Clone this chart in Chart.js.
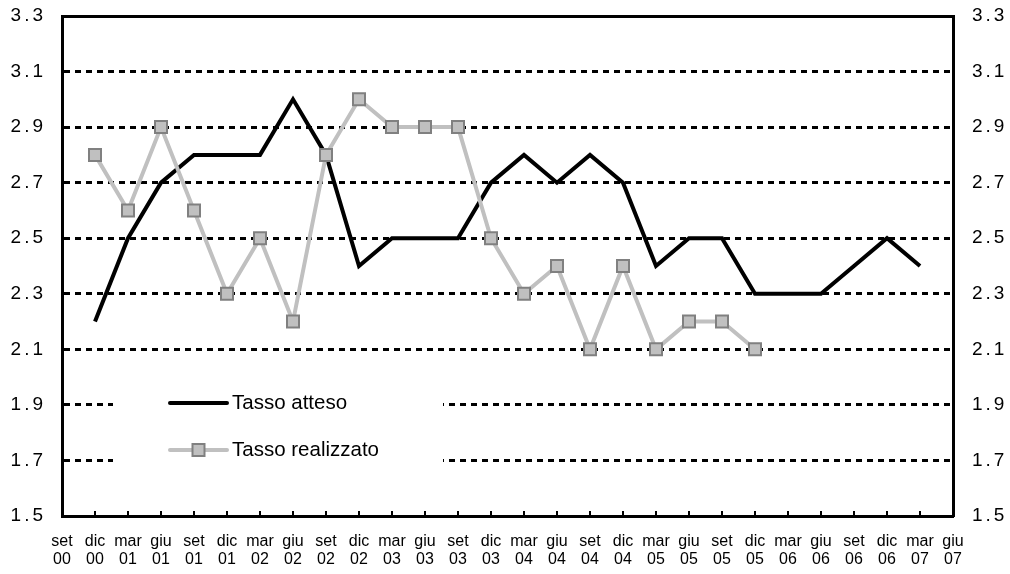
<!DOCTYPE html>
<html>
<head>
<meta charset="utf-8">
<script src="https://cdn.jsdelivr.net/npm/chart.js@4/dist/chart.umd.min.js"></script>
<style>
  html, body { margin: 0; padding: 0; background: #fff; }
  #wrap { width: 1010px; height: 574px; }
</style>
</head>
<body>
<div id="wrap"><canvas id="chart" width="1010" height="574"></canvas></div>
<script>
const quarters = [
  ["set", "00"], ["dic", "00"], ["mar", "01"], ["giu", "01"], ["set", "01"], ["dic", "01"],
  ["mar", "02"], ["giu", "02"], ["set", "02"], ["dic", "02"], ["mar", "03"], ["giu", "03"],
  ["set", "03"], ["dic", "03"], ["mar", "04"], ["giu", "04"], ["set", "04"], ["dic", "04"],
  ["mar", "05"], ["giu", "05"], ["set", "05"], ["dic", "05"], ["mar", "06"], ["giu", "06"],
  ["set", "06"], ["dic", "06"], ["mar", "07"], ["giu", "07"]
];

const tassoAtteso = [
  null, 2.2, 2.5, 2.7, 2.8, 2.8, 2.8, 3.0, 2.8, 2.4, 2.5, 2.5, 2.5, 2.7,
  2.8, 2.7, 2.8, 2.7, 2.4, 2.5, 2.5, 2.3, 2.3, 2.3, 2.4, 2.5, 2.4, null
];

const tassoRealizzato = [
  null, 2.8, 2.6, 2.9, 2.6, 2.3, 2.5, 2.2, 2.8, 3.0, 2.9, 2.9, 2.9, 2.5,
  2.3, 2.4, 2.1, 2.4, 2.1, 2.2, 2.2, 2.1, null, null, null, null, null, null
];

const yMin = 1.5, yMax = 3.3, yStep = 0.2;
const seriesNames = ["Tasso atteso", "Tasso realizzato"];

const FONT = "'Liberation Sans', Arial, sans-serif";

// spaziatura fra le cifre delle etichette dell'asse y (come nell'originale)
function spaceLabels(scale, px) {
  if (scale._spaced) return;
  const orig = scale.drawLabels.bind(scale);
  scale.drawLabels = function (area) {
    const ctx = this.ctx;
    ctx.save();
    ctx.letterSpacing = px + "px";
    orig(area);
    ctx.restore();
  };
  scale._spaced = true;
}

// legenda dentro l'area del grafico, su fondo bianco
const insideLegend = {
  id: "insideLegend",
  afterLayout(chart) {
    spaceLabels(chart.scales.y, 3);
    spaceLabels(chart.scales.y2, 3);
  },
  beforeDatasetsDraw(chart) {
    const { ctx, chartArea } = chart;
    const x0 = chartArea.left + 51, y0 = chartArea.top + 364;
    ctx.save();
    ctx.fillStyle = "#fff";
    ctx.fillRect(x0, y0, 330, 98);
    ctx.restore();
  },
  afterDatasetsDraw(chart) {
    const { ctx, chartArea } = chart;
    const lx1 = chartArea.left + 108, lx2 = chartArea.left + 165;
    const rows = [chartArea.top + 387, chartArea.top + 434];
    ctx.save();
    ctx.lineCap = "round";
    // Tasso atteso
    ctx.strokeStyle = "#000";
    ctx.lineWidth = 4;
    ctx.beginPath(); ctx.moveTo(lx1, rows[0]); ctx.lineTo(lx2, rows[0]); ctx.stroke();
    // Tasso realizzato
    ctx.strokeStyle = "#c0c0c0";
    ctx.beginPath(); ctx.moveTo(lx1, rows[1]); ctx.lineTo(lx2, rows[1]); ctx.stroke();
    const mx = (lx1 + lx2) / 2;
    ctx.fillStyle = "#c0c0c0";
    ctx.strokeStyle = "#808080";
    ctx.lineWidth = 2;
    ctx.fillRect(mx - 6, rows[1] - 6, 12, 12);
    ctx.strokeRect(mx - 6, rows[1] - 6, 12, 12);
    ctx.fillStyle = "#000";
    ctx.font = "20.5px " + FONT;
    ctx.textBaseline = "middle";
    ctx.fillText(seriesNames[0], lx2 + 5, rows[0]);
    ctx.fillText(seriesNames[1], lx2 + 5, rows[1]);
    ctx.restore();
  },
  afterDraw(chart) {
    // tacche interne sull'asse delle ascisse
    const { ctx, chartArea, scales } = chart;
    ctx.save();
    ctx.strokeStyle = "#000";
    ctx.lineWidth = 2;
    for (let i = 1; i < quarters.length - 1; i++) {
      const x = Math.round(scales.x.getPixelForValue(i));
      ctx.beginPath();
      ctx.moveTo(x, chartArea.bottom);
      ctx.lineTo(x, chartArea.bottom - 5);
      ctx.stroke();
    }
    ctx.restore();
  }
};

const yTicks = {
  stepSize: yStep,
  color: "#000",
  font: { family: FONT, size: 19 },
  padding: 16,
  callback: v => v.toFixed(1)
};

const fitY = w => s => {
  s.width = w;
  s.paddingTop = 0;
  s.paddingBottom = 0;
};

new Chart(document.getElementById("chart").getContext("2d"), {
  type: "line",
  data: {
    labels: quarters,
    datasets: [
      {
        label: seriesNames[0],
        data: tassoAtteso,
        borderColor: "#000",
        borderWidth: 4,
        pointRadius: 0,
        tension: 0,
        order: 2
      },
      {
        label: seriesNames[1],
        data: tassoRealizzato,
        borderColor: "#c0c0c0",
        borderWidth: 4,
        pointStyle: "rect",
        pointRadius: 8.5,
        pointBackgroundColor: "#c0c0c0",
        pointBorderColor: "#808080",
        pointBorderWidth: 2,
        tension: 0,
        order: 1
      }
    ]
  },
  options: {
    responsive: false,
    animation: false,
    layout: { padding: { top: 16, left: 0, right: 0, bottom: 0 } },
    plugins: { legend: { display: false }, tooltip: { enabled: false } },
    scales: {
      x: {
        offset: false,
        grid: { display: false, drawTicks: false },
        border: { display: true, color: "#000", width: 3 },
        ticks: {
          color: "#000",
          font: { family: FONT, size: 16, lineHeight: 1.15 },
          padding: 16,
          maxRotation: 0,
          autoSkip: false
        },
        afterFit: s => { s.height = 58; s.paddingLeft = 0; s.paddingRight = 0; }
      },
      y: {
        position: "left",
        min: yMin,
        max: yMax,
        grid: {
          color: "#000",
          lineWidth: 3,
          drawTicks: false
        },
        border: {
          display: true,
          color: "#000",
          width: 3,
          dash: c => (c.tick && c.tick.value >= yMax - 1e-9) ? [] : [6, 5]
        },
        ticks: yTicks,
        afterFit: fitY(62)
      },
      y2: {
        position: "right",
        min: yMin,
        max: yMax,
        grid: { display: false, drawTicks: false },
        border: { display: true, color: "#000", width: 3 },
        ticks: Object.assign({}, yTicks, { padding: 19 }),
        afterFit: fitY(57)
      }
    }
  },
  plugins: [insideLegend]
});
</script>
</body>
</html>
